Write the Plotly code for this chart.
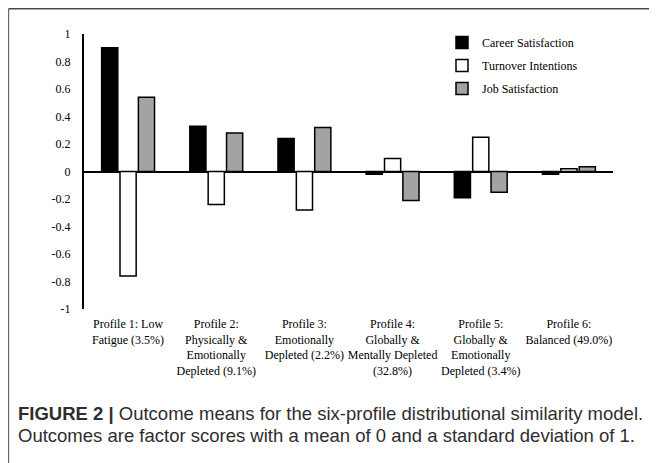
import plotly.graph_objects as go

categories = [
    "Profile 1: Low<br>Fatigue (3.5%)",
    "Profile 2:<br>Physically &<br>Emotionally<br>Depleted (9.1%)",
    "Profile 3:<br>Emotionally<br>Depleted (2.2%)",
    "Profile 4:<br>Globally &<br>Mentally Depleted<br>(32.8%)",
    "Profile 5:<br>Globally &<br>Emotionally<br>Depleted (3.4%)",
    "Profile 6:<br>Balanced (49.0%)",
]
career_satisfaction = [0.90, 0.33, 0.24, -0.02, -0.19, -0.02]
turnover_intentions = [-0.76, -0.24, -0.28, 0.095, 0.25, 0.02]
job_satisfaction = [0.54, 0.28, 0.32, -0.21, -0.15, 0.035]

series_names = ["Career Satisfaction", "Turnover Intentions", "Job Satisfaction"]
series_colors = ["#000000", "#ffffff", "#a3a3a3"]

y_tickvals = [1, 0.8, 0.6, 0.4, 0.2, 0, -0.2, -0.4, -0.6, -0.8, -1]
y_ticktext = ["1", "0.8", "0.6", "0.4", "0.2", "0", "-0.2", "-0.4", "-0.6", "-0.8", "-1"]

caption_line1 = "<b>FIGURE 2 |</b> Outcome means for the six-profile distributional similarity model."
caption_line2 = "Outcomes are factor scores with a mean of 0 and a standard deviation of 1."

# page body has an 8px margin: figure origin sits at screen (8, 8)
OFF = 8
W, H = 649, 455
L, R, T, B = 76, 44, 26, 154
pw, ph = W - L - R, H - T - B

def px_x(sx):
    return (sx - OFF - L) / pw

def px_y(sy):
    return (H - B - (sy - OFF)) / ph

fig = go.Figure()
for name, vals, col in zip(series_names,
                           [career_satisfaction, turnover_intentions, job_satisfaction],
                           series_colors):
    fig.add_trace(go.Bar(
        x=categories, y=vals, name=name, legendgroup=name,
        marker=dict(color=col, line=dict(color="#000000", width=1.5)),
    ))

serif = "Liberation Serif"
sans = "Liberation Sans"

fig.update_layout(
    width=W, height=H,
    margin=dict(l=L, r=R, t=T, b=B, pad=0),
    paper_bgcolor="white", plot_bgcolor="white",
    barmode="group", bargap=0.375, bargroupgap=0.12,
    font=dict(family=serif, size=12, color="#000000"),
    showlegend=True,
    legend=dict(
        x=px_x(442), y=px_y(28), xanchor="left", yanchor="top",
        font=dict(family=serif, size=12, color="#000000"),
        tracegroupgap=4, bgcolor="rgba(0,0,0,0)",
    ),
    xaxis=dict(
        showline=False, showgrid=False, zeroline=False, ticks="",
        tickfont=dict(family=serif, size=12, color="#000000"),
        tickangle=0, ticklabelstandoff=6,
    ),
    yaxis=dict(
        range=[-1, 1], tickvals=y_tickvals, ticktext=y_ticktext,
        showgrid=False, showline=True, linecolor="#000000", linewidth=2,
        zeroline=True, zerolinecolor="#000000", zerolinewidth=1.5,
        ticks="", ticklabelstandoff=9,
        tickfont=dict(family=serif, size=12, color="#000000"),
    ),
)

# figure frame (top and left edges)
fig.add_shape(type="line", xref="paper", yref="paper",
              x0=px_x(8.5), x1=px_x(W + OFF + 5), y0=px_y(8.8), y1=px_y(8.8),
              line=dict(color="#4a4a4a", width=1.5))
fig.add_shape(type="line", xref="paper", yref="paper",
              x0=px_x(8.6), x1=px_x(8.6), y0=px_y(8.5), y1=px_y(H + OFF + 5),
              line=dict(color="#6a6a6a", width=1.2))

fig.add_annotation(text=caption_line1, xref="paper", yref="paper",
                   x=px_x(16), y=px_y(413), xanchor="left", yanchor="middle",
                   showarrow=False, font=dict(family=sans, size=18.5, color="#2e2e2e"))
fig.add_annotation(text=caption_line2, xref="paper", yref="paper",
                   x=px_x(16), y=px_y(435), xanchor="left", yanchor="middle",
                   showarrow=False, font=dict(family=sans, size=18.5, color="#2e2e2e"))

fig.write_html("out.html")
